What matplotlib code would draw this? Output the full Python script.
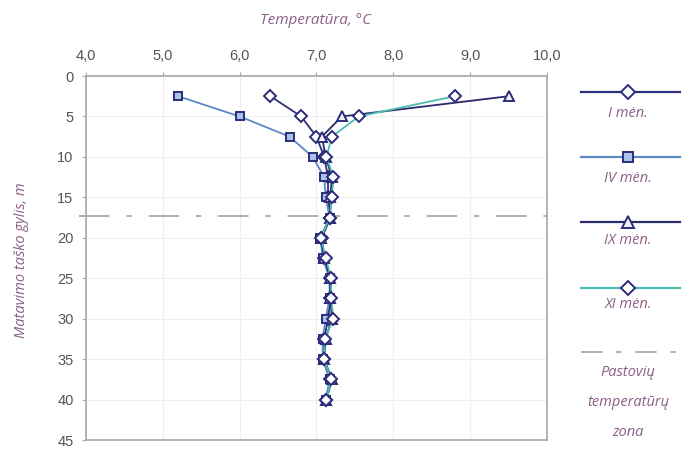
import matplotlib
matplotlib.use("Agg")
import matplotlib.pyplot as plt
from matplotlib.lines import Line2D

depth = [2.5, 5, 7.5, 10, 12.5, 15, 17.5, 20, 22.5, 25, 27.5, 30, 32.5, 35, 37.5, 40]
t_I = [6.4, 6.8, 7.0, 7.1, 7.15, 7.15, 7.18, 7.07, 7.1, 7.18, 7.18, 7.15, 7.1, 7.1, 7.18, 7.13]
t_IV = [5.2, 6.0, 6.65, 6.95, 7.1, 7.12, 7.17, 7.05, 7.08, 7.17, 7.17, 7.12, 7.08, 7.08, 7.17, 7.12]
t_IX = [9.5, 7.33, 7.07, 7.12, 7.2, 7.18, 7.18, 7.06, 7.1, 7.18, 7.18, 7.2, 7.12, 7.1, 7.2, 7.13]
t_XI = [8.8, 7.55, 7.2, 7.13, 7.22, 7.2, 7.17, 7.06, 7.12, 7.19, 7.19, 7.22, 7.11, 7.1, 7.19, 7.13]
zone_depth = 17.3

x_ticks = [4, 5, 6, 7, 8, 9, 10]
x_labels = ["4,0", "5,0", "6,0", "7,0", "8,0", "9,0", "10,0"]
y_ticks = [0, 5, 10, 15, 20, 25, 30, 35, 40, 45]

labels = ["I mėn.", "IV mėn.", "IX mėn.", "XI mėn."]
zone_label = ["Pastovių", "temperatūrų", "zona"]

NAVY = "#2b2d78"
series = [
    dict(t=t_I, color="#2e2f7c", marker="D", ms=6.0, mfc="white"),
    dict(t=t_IV, color="#5a88c8", marker="s", ms=6.0, mfc="#a9c2ea"),
    dict(t=t_IX, color="#2a2a6c", marker="^", ms=7.0, mfc="#f4eef6"),
    dict(t=t_XI, color="#4cbcae", marker="D", ms=6.0, mfc="white"),
]
TXT = "#8c5f86"
TICK = "#555555"
SPINE = "#a8a8a8"

top_px, bot_px = 76, 440
fig = plt.figure(figsize=(6.84, 4.49), dpi=100)
ax = fig.add_axes([86 / 684, 1 - bot_px / 449, (547 - 86) / 684, (bot_px - top_px) / 449])

for s in series:
    ax.plot(s["t"], depth, color=s["color"], lw=1.3, marker=s["marker"], ms=s["ms"],
            mfc=s["mfc"], mec=NAVY, mew=1.4, zorder=3)

ax.axhline(zone_depth, xmin=-0.015, xmax=1.0, color="#9a9a9a", lw=1.1,
           ls=(0, (20, 11, 3.5, 11)), clip_on=False, zorder=2)

ax.set_xlim(4, 10)
ax.set_ylim(45, 0)
ax.xaxis.tick_top()
ax.xaxis.set_label_position("top")
ax.set_xticks(x_ticks)
ax.set_xticklabels(x_labels)
ax.set_yticks(y_ticks)
ax.tick_params(axis="both", colors=TICK, labelsize=10.5, length=3, width=0.8,
               color=SPINE, pad=6)
for lab in ax.get_xticklabels() + ax.get_yticklabels():
    lab.set_fontfamily("Liberation Sans")
ax.grid(True, color="#efefef", lw=0.8, zorder=0)
for sp in ax.spines.values():
    sp.set_color(SPINE)
    sp.set_linewidth(1.2)

fig.text(316 / 684, 1 - 20 / 449, "Temperatūra, °C", ha="center", va="center",
         fontsize=11, style="italic", color=TXT, family="Open Sans")
fig.text(22 / 684, 1 - 260 / 449, "Matavimo taško gylis, m", ha="center", va="center",
         rotation=90, fontsize=10.5, style="italic", color=TXT, family="Open Sans")

# custom legend
leg_y = [92, 157, 222, 288]
txt_y = [114, 179, 241, 305]
x0, x1, xm = 581 / 684, 680 / 684, 628 / 684
for s, lab, ly, ty in zip(series, labels, leg_y, txt_y):
    fy = 1 - ly / 449
    fig.add_artist(Line2D([x0, x1], [fy, fy], transform=fig.transFigure,
                          color=s["color"], lw=1.6))
    fig.add_artist(Line2D([xm], [fy], transform=fig.transFigure, marker=s["marker"],
                          ms=s["ms"] + 1.0, mfc=s["mfc"], mec=NAVY, mew=1.4, lw=0))
    fig.text(xm, 1 - ty / 449, lab, ha="center", va="center", fontsize=10.5,
             style="italic", color=TXT, family="Open Sans")

fy = 1 - 352 / 449
fig.add_artist(Line2D([x0, x1], [fy, fy], transform=fig.transFigure,
                      color="#9a9a9a", lw=1.1, ls=(0, (14, 9, 3.5, 9))))
for lab, ty in zip(zone_label, [372, 403, 433]):
    fig.text(xm, 1 - ty / 449, lab, ha="center", va="center", fontsize=10.5,
             style="italic", color=TXT, family="Open Sans")

fig.savefig("out.png", dpi=100)
